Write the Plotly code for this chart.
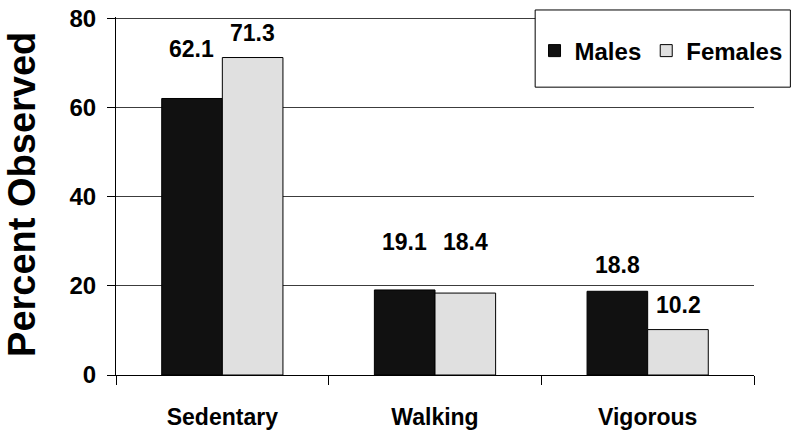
import plotly.graph_objects as go

categories = ["Sedentary", "Walking", "Vigorous"]
males = [62.1, 19.1, 18.8]
females = [71.3, 18.4, 10.2]
series_names = ["Males", "Females"]
y_ticks = [0, 20, 40, 60, 80]
y_title = "Percent Observed"

# style: vertical lift (px) of each value label above its bar top
males_label_lift = [49, 48, 26]
females_label_lift = [25, 51, 25]

FONT = "Arial, 'Liberation Sans', sans-serif"

fig = go.Figure()
fig.add_trace(go.Bar(
    x=categories, y=males, name=series_names[0],
    marker=dict(color="#111111", line=dict(color="#000000", width=1)),
))
fig.add_trace(go.Bar(
    x=categories, y=females, name=series_names[1],
    marker=dict(color="#e0e0e0", line=dict(color="#000000", width=1)),
))

annotations = []
for vals, lifts, dx in ((males, males_label_lift, -30.5), (females, females_label_lift, 30.5)):
    for c, v, lift in zip(categories, vals, lifts):
        annotations.append(dict(
            x=c, y=v, xref="x", yref="y", text=f"{v:.1f}", showarrow=False,
            xshift=dx, yshift=lift, yanchor="middle", xanchor="center",
            font=dict(family=FONT, size=23, color="#000000", weight="bold"),
        ))

# y-axis title
annotations.append(dict(
    text=y_title, xref="paper", yref="paper", x=-0.1473, y=0.503,
    xanchor="center", yanchor="middle", textangle=-90, showarrow=False,
    font=dict(family=FONT, size=38, color="#000000", weight="bold"),
))

fig.update_layout(
    width=800, height=438,
    margin=dict(l=116, r=46, t=17, b=63, autoexpand=False),
    paper_bgcolor="white", plot_bgcolor="white",
    barmode="group", bargap=0.43, bargroupgap=0,
    font=dict(family=FONT, color="#000000"),
    showlegend=True,
    legend=dict(
        orientation="h", x=0.656, y=0.905, xanchor="left", yanchor="middle",
        bgcolor="rgba(0,0,0,0)", borderwidth=0,
        font=dict(family=FONT, size=24, color="#000000", weight="bold"),
        itemclick=False,
    ),
    annotations=annotations,
    shapes=[dict(
        type="rect", xref="paper", yref="paper",
        x0=0.657, x1=1.057, y0=0.804, y1=1.0196,
        fillcolor="white", line=dict(color="#000000", width=1), layer="above",
    )],
)

fig.update_xaxes(
    type="category", range=[-0.5, 2.5],
    showline=True, linecolor="#000000", linewidth=1,
    ticks="outside", tickson="boundaries", ticklen=9, tickcolor="#000000",
    tickfont=dict(family=FONT, size=23, color="#000000", weight="bold"),
    ticklabelstandoff=21,
    showgrid=False,
)
fig.update_yaxes(
    range=[0, 80.4], tickvals=y_ticks,
    showline=True, linecolor="#000000", linewidth=1,
    ticks="outside", ticklen=8, tickcolor="#000000",
    tickfont=dict(family=FONT, size=24, color="#000000", weight="bold"),
    ticklabelstandoff=6,
    showgrid=True, gridcolor="#3c3c3c", gridwidth=1.3,
    zeroline=False,
)

fig.write_html(
    "out.html",
    config={"displayModeBar": False},
    post_script="document.body.style.margin='0';",
)
